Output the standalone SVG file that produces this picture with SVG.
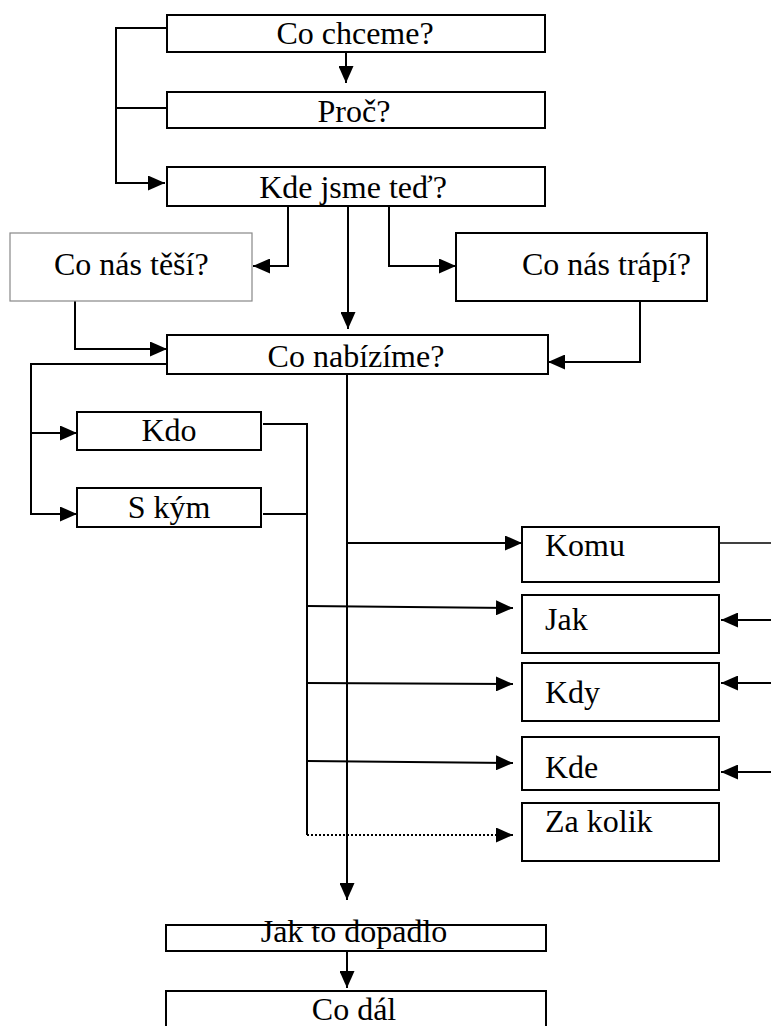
<svg xmlns="http://www.w3.org/2000/svg" width="771" height="1026" viewBox="0 0 771 1026">
<style>
.box{fill:#fff;stroke:#000;stroke-width:2}
.gbox{fill:#fff;stroke:#888;stroke-width:1.2}
text{font-family:"Liberation Serif","Times New Roman",serif;font-size:32px;fill:#000}
.c{text-anchor:middle}
.ln{fill:none;stroke:#000;stroke-width:2}
.thin{fill:none;stroke:#000;stroke-width:1.3}
.dot{fill:none;stroke:#000;stroke-width:2;stroke-dasharray:2,2}
</style>
<defs>
<marker id="ah" markerUnits="userSpaceOnUse" markerWidth="17" markerHeight="15" refX="17" refY="7.5" orient="auto">
<path d="M0,0 L17,7.5 L0,15 z" fill="#000"/>
</marker>
</defs>
<g id="connectors">
<path class="ln" d="M346,52 V83" marker-end="url(#ah)"/>
<path class="ln" d="M166,28 H116 V183 H165" marker-end="url(#ah)"/>
<path class="ln" d="M116,108 H166"/>
<path class="ln" d="M288,206 V266 H253" marker-end="url(#ah)"/>
<path class="ln" d="M389,206 V266 H456" marker-end="url(#ah)"/>
<path class="ln" d="M348,206 V329" marker-end="url(#ah)"/>
<path class="ln" d="M75,301 V349 H167" marker-end="url(#ah)"/>
<path class="ln" d="M640,301 V362 H548" marker-end="url(#ah)"/>
<path class="ln" d="M167,364 H31 V514 H77" marker-end="url(#ah)"/>
<path class="ln" d="M31,433 H77" marker-end="url(#ah)"/>
<path class="ln" d="M263,424 H307 V835"/>
<path class="ln" d="M263,514 H307"/>
<path class="ln" d="M347,374 V900" marker-end="url(#ah)"/>
<path class="ln" d="M347,543 H522" marker-end="url(#ah)"/>
<path class="thin" d="M719,543 H771"/>
<path class="ln" d="M307,606 L513,608" marker-end="url(#ah)"/>
<path class="ln" d="M307,683 L513,684" marker-end="url(#ah)"/>
<path class="ln" d="M307,761 L513,763" marker-end="url(#ah)"/>
<path class="dot" d="M307,835 H513" marker-end="url(#ah)"/>
<path class="ln" d="M771,620 H721" marker-end="url(#ah)"/>
<path class="ln" d="M771,683 H721" marker-end="url(#ah)"/>
<path class="ln" d="M771,772 H721" marker-end="url(#ah)"/>
<path class="ln" d="M347,948 V988" marker-end="url(#ah)"/>
</g>
<g id="n-co-chceme"><rect class="box" x="167" y="15" width="378" height="37"/><text class="c" x="355" y="44">Co chceme?</text></g>
<g id="n-proc"><rect class="box" x="167" y="92" width="378" height="36"/><text class="c" x="354" y="122">Proč?</text></g>
<g id="n-kde-jsme"><rect class="box" x="167" y="167" width="378" height="39"/><text class="c" x="353" y="198">Kde jsme teď?</text></g>
<g id="n-tesi"><rect class="gbox" x="10" y="233" width="242" height="68"/><text x="54" y="275">Co nás těší?</text></g>
<g id="n-trapi"><rect class="box" x="456" y="233" width="251" height="68"/><text x="522" y="275">Co nás trápí?</text></g>
<g id="n-nabizime"><rect class="box" x="167" y="335" width="381" height="39"/><text class="c" x="356" y="367">Co nabízíme?</text></g>
<g id="n-kdo"><rect class="box" x="77" y="412" width="184" height="38"/><text class="c" x="169" y="441">Kdo</text></g>
<g id="n-skym"><rect class="box" x="77" y="488" width="184" height="39"/><text class="c" x="169" y="518">S kým</text></g>
<g id="n-komu"><rect class="box" x="522" y="527" width="197" height="55"/><text x="545" y="556">Komu</text></g>
<g id="n-jak"><rect class="box" x="522" y="595" width="197" height="58"/><text x="545" y="630">Jak</text></g>
<g id="n-kdy"><rect class="box" x="522" y="663" width="197" height="58"/><text x="545" y="703">Kdy</text></g>
<g id="n-kde"><rect class="box" x="522" y="737" width="197" height="53"/><text x="545" y="778">Kde</text></g>
<g id="n-zakolik"><rect class="box" x="522" y="803" width="197" height="58"/><text x="545" y="832">Za kolik</text></g>
<g id="n-dopadlo"><rect class="box" x="166" y="925" width="380" height="26"/><text class="c" x="354" y="942">Jak to dopadlo</text></g>
<g id="n-co-dal"><rect class="box" x="166" y="991" width="380" height="45"/><text class="c" x="354" y="1020">Co dál</text></g>
</svg>
